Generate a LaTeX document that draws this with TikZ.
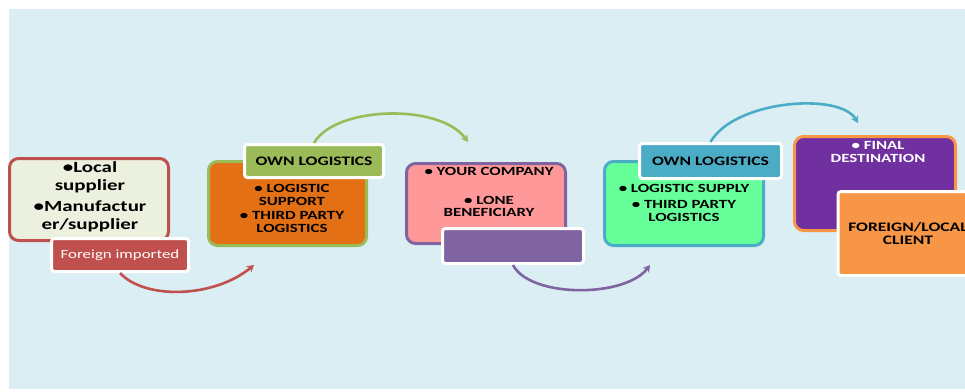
\documentclass[tikz,border=0pt]{standalone}
\usepackage{fontspec}
\setmainfont{Carlito}[FakeStretch=1.35]
\usetikzlibrary{arrows.meta, positioning, calc}
\definecolor{BgBlue}{RGB}{219,238,244}
\definecolor{Ivory}{RGB}{235,241,222}
\definecolor{MediumRed}{RGB}{192,80,77}
\definecolor{OliveGreen}{RGB}{155,187,89}
\definecolor{DeepOrange}{RGB}{228,112,22}
\definecolor{SoftPink}{RGB}{255,153,153}
\definecolor{Lavender}{RGB}{128,100,162}
\definecolor{MintGreen}{RGB}{102,255,153}
\definecolor{SkyBlue}{RGB}{75,172,198}
\definecolor{DeepPurple}{RGB}{112,48,160}
\definecolor{LightOrange}{RGB}{247,150,70}

\tikzset{
  flowbox/.style={rounded corners=9pt, line width=3pt, inner sep=0pt},
  tagbox/.style={rounded corners=3pt, draw=white, line width=3pt, inner sep=0pt, align=center,
    font=\fontsize{13}{13}\selectfont\bfseries},
  boxtext/.style={font=\fontsize{12.5}{12.5}\selectfont\bfseries, align=center, inner sep=0pt},
  flowarrow/.style={line width=2.6pt, -{Stealth[length=7pt, width=8pt]}}
}

\begin{document}
\begin{tikzpicture}[x=1pt, y=-1pt]

\useasboundingbox (0,0) rectangle (965,391);
\clip (0,0) rectangle (965,391);

% fondo
\fill[BgBlue] (9,9) rectangle (965,389);

% proveedor
\node[flowbox, draw=MediumRed, fill=Ivory, minimum width=159pt, minimum height=82pt] (supplier) at (89,199.5) {};
\node[boxtext, font=\fontsize{15.5}{18.5}\selectfont\bfseries] (suppliertxt) at (90,197)
    {•Local\\supplier\\[2pt]•Manufactur\\er/supplier};
\node[tagbox, fill=MediumRed, text=white, minimum width=137pt, minimum height=33pt,
    font=\fontsize{12.5}{14}\selectfont] (imported) at (120,255) {Foreign imported};

% logistica 1
\node[flowbox, draw=OliveGreen, fill=DeepOrange, minimum width=158pt, minimum height=84pt] (support) at (287.5,203.5) {};
\node[boxtext] (supporttxt) at (292,208.5) {• LOGISTIC\\SUPPORT\\[2pt]• THIRD PARTY\\LOGISTICS};
\node[tagbox, fill=OliveGreen, minimum width=139pt, minimum height=33pt] (ownA) at (314,161) {OWN LOGISTICS};

% empresa
\node[flowbox, draw=Lavender, fill=SoftPink, minimum width=159pt, minimum height=80pt] (company) at (486,203.5) {};
\node[boxtext] (companytxt) at (489,192) {• YOUR COMPANY\\[16pt]• LONE\\BENEFICIARY};
\node[tagbox, fill=Lavender, minimum width=141pt, minimum height=35pt] (blanktag) at (513,246) {};

% logistica 2
\node[flowbox, draw=SkyBlue, fill=MintGreen, minimum width=159pt, minimum height=84pt] (supply) at (684,203.5) {};
\node[boxtext] (supplytxt) at (684,203) {• LOGISTIC SUPPLY\\[3.5pt]• THIRD PARTY\\LOGISTICS};
\node[tagbox, fill=SkyBlue, minimum width=142pt, minimum height=35pt] (ownB) at (710.5,161) {OWN LOGISTICS};

% destino
\node[flowbox, draw=LightOrange, fill=DeepPurple, minimum width=161pt, minimum height=94pt] (destination) at (875,183.5) {};
\node[boxtext, text=white] (destinationtxt) at (878,152) {• FINAL\\DESTINATION};
\node[tagbox, fill=LightOrange, minimum width=140pt, minimum height=84pt] (client) at (908,233.5) {FOREIGN/LOCAL\\CLIENT};

% flechas
\coordinate (redend) at (254,265);
\coordinate (greenend) at (468,142);
\coordinate (purpleend) at (650,265);
\coordinate (blueend) at (858,123);
\draw[flowarrow, MediumRed] (imported.south) .. controls +(25,27) and +(-40,33) .. (redend);
\draw[flowarrow, OliveGreen] (ownA.north) .. controls +(21,-37) and +(-28,-39) .. (greenend);
\draw[flowarrow, Lavender] (blanktag.south) .. controls +(17,33) and +(-25,33) .. (purpleend);
\draw[flowarrow, SkyBlue] (ownB.north) .. controls +(24,-42) and +(-18,-31) .. (blueend);

\end{tikzpicture}
\end{document}
